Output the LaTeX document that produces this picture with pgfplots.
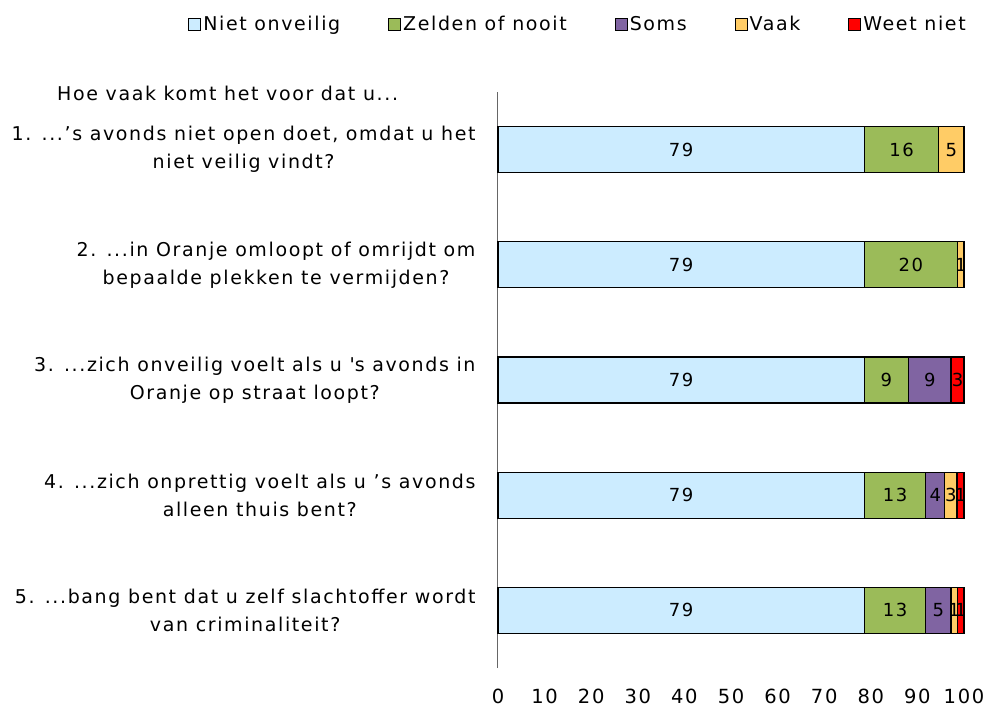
\documentclass[border=0pt]{standalone}
\usepackage{fontspec}
\setmainfont{DejaVu Sans}[LetterSpace=8.5]
\usepackage{pgfplots}
\pgfplotsset{compat=1.18}
\usepackage{pgfplotstable}
\definecolor{cBlue}{RGB}{204,236,255}
\definecolor{cGreen}{RGB}{155,187,89}
\definecolor{cPurple}{RGB}{128,100,162}
\definecolor{cOrange}{RGB}{255,204,102}
\definecolor{cRed}{RGB}{255,0,0}
\newcommand\ddd{...}
\pgfplotstableread{
pos niet zelden soms vaak weet ln lz ls lv lw
5 78.6 16.0 0 5.4 0 79 16 0 5 0
4 78.6 20.0 0 1.4 0 79 20 0 1 0
3 78.6 9.5 9.1 0 2.8 79 9 9 0 3
2 78.6 13.2 4.1 2.6 1.5 79 13 4 3 1
1 78.6 13.2 5.4 1.4 1.4 79 13 5 1 1
}\datatable
\begin{document}
\begin{tikzpicture}[x=1pt,y=1pt]
\path[use as bounding box] (0,0) rectangle (985,-707);
\node[anchor=west, inner sep=0pt, font=\fontsize{19}{23}\selectfont] at (57,-93) {Hoe vaak komt het voor dat u\ddd};
\begin{axis}[
  at={(498pt,-92pt)}, anchor=north west,
  scale only axis, width=466pt, height=576pt,
  xbar stacked, bar width=46pt,
  xmin=0, xmax=100, ymin=0.5, ymax=5.5,
  xtick={0,10,20,30,40,50,60,70,80,90,100}, ytick={1,2,3,4,5},
  yticklabels={
    {5. \ddd bang bent dat u zelf slachtoffer wordt\\van criminaliteit?},
    {4. \ddd zich onprettig voelt als u ’s avonds\\alleen thuis bent?},
    {3. \ddd zich onveilig voelt als u \textquotesingle s avonds in\\Oranje op straat loopt?},
    {2. \ddd in Oranje omloopt of omrijdt om\\bepaalde plekken te vermijden?},
    {1. \ddd’s avonds niet open doet, omdat u het\\niet veilig vindt?}},
  yticklabel style={align=center, font=\fontsize{19}{28}\selectfont, xshift=-19pt},
  xticklabel style={font=\fontsize{19.5}{24}\selectfont, yshift=-17pt},
  /pgf/number format/assume math mode=true,
  axis lines*=left,
  x axis line style={draw=none},
  y axis line style={draw=black!60, line width=1pt, -},
  major tick length=0pt,
  clip=false,
  point meta=explicit,
  nodes near coords={\pgfmathfloatifflags{\pgfplotspointmeta}{0}{}{\pgfmathprintnumber{\pgfplotspointmeta}}},
  every node near coord/.append style={font=\fontsize{18}{20}\selectfont, text=black, anchor=center},
  every axis plot/.append style={draw=black, line width=1.2pt},
  legend columns=5,
  legend style={draw=none, fill=none, inner sep=0pt, at={(-0.665,1.118)}, anchor=west,
    font=\fontsize{19}{23}\selectfont,
    /tikz/every even column/.append style={column sep=46pt},
    /tikz/every odd column/.append style={column sep=0pt}},
  legend image code/.code={\draw[#1, draw=black, line width=1pt] (0pt,-6pt) rectangle (12pt,6pt);},
]
\addplot[fill=cBlue] table[x=niet, y=pos, meta=ln] {\datatable};
\addplot[fill=cGreen] table[x=zelden, y=pos, meta=lz] {\datatable};
\addplot[fill=cPurple] table[x=soms, y=pos, meta=ls] {\datatable};
\addplot[fill=cOrange] table[x=vaak, y=pos, meta=lv] {\datatable};
\addplot[fill=cRed] table[x=weet, y=pos, meta=lw] {\datatable};
\legend{Niet onveilig, Zelden of nooit, Soms, Vaak, Weet niet}
\end{axis}
\end{tikzpicture}
\end{document}
